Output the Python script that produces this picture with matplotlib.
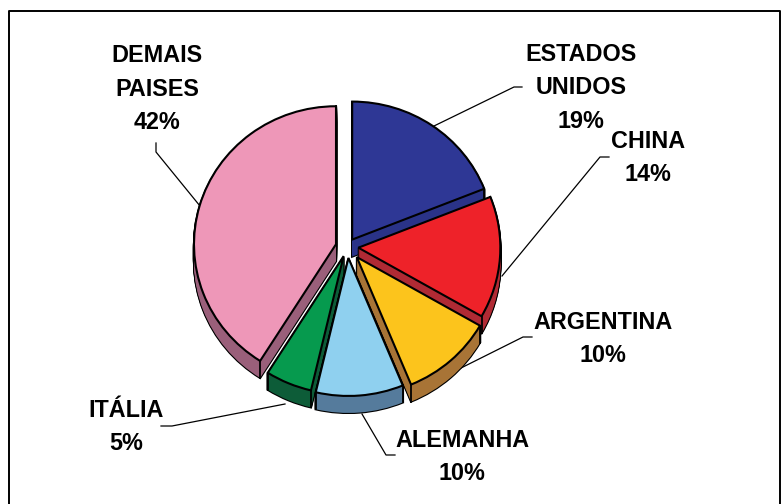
import matplotlib
matplotlib.use('Agg')
import matplotlib.pyplot as plt
import numpy as np

plt.rcParams['font.family'] = ['Liberation Sans', 'DejaVu Sans']

paises = ['ESTADOS\nUNIDOS', 'CHINA', 'ARGENTINA', 'ALEMANHA', 'ITÁLIA', 'DEMAIS\nPAISES']
valores = [19, 14, 10, 10, 5, 42]
cores = ['#2E3795', '#EE2229', '#FCC41C', '#8FD0EF', '#069A4E', '#EE97B8']
cores_lado = ['#2A3388', '#B02A34', '#A87436', '#557B9C', '#0D5C38', '#9A5F7A']

W, H = 782, 504
RX, RY = 142, 138
CENTRO = (347, 247)
PROF = 17
explode = [0.065, 0.08, 0.10, 0.08, 0.07, 0.08]
# the 3d view pulls the lower slice edges a little clockwise (degrees, per slice end)
perspectiva = [0, 0, 1, 2.7, 2.5, 3.5, 0]
# back slices first so the front ones cover them
ordem = [0, 5, 1, 4, 2, 3]

rotulos_pos = [(581, 88), (648, 158), (603, 339), (462, 457), (126, 427), (157, 89)]
guias = [
    [(522, 87), (514, 87), (434, 126)],
    [(609, 157), (600, 157), (502, 276)],
    [(532, 337), (523, 337), (459, 369)],
    [(395, 455), (386, 455), (362, 414)],
    [(161, 426), (172, 426), (285, 404)],
    [(156, 143), (156, 152), (200, 206)],
]


def px(x, y):
    return x / RX, (H - y) / RY


fig = plt.figure(figsize=(W / 100, H / 100), dpi=100)
ax = fig.add_axes([0, 0, 1, 1])

cx, cy = px(*CENTRO)
dy = 1 / RY


def fatia(centro_y, cor, borda, lw, z):
    wedges, _ = ax.pie(valores, explode=explode, startangle=90, counterclock=False,
                       center=(cx, centro_y), radius=1, colors=cor,
                       wedgeprops=dict(edgecolor=borda, linewidth=lw))
    for i, (w, rank) in enumerate(zip(wedges, np.argsort(ordem))):
        w.set_theta1(w.theta1 - perspectiva[i + 1])
        w.set_theta2(w.theta2 - perspectiva[i])
        w.set_zorder(rank * 10 + z)
    return wedges


# depth: black silhouette first, then the dark fill over it
for d in range(PROF, 0, -1):
    fatia(cy - d * dy, ['black'] * 6, 'black', 1.6, 1)
for d in range(PROF, 0, -1):
    fatia(cy - d * dy, cores_lado, 'none', 0, 2)

topo = fatia(cy, cores, 'black', 1.5, 3)

# vertical ridges at the slice corners
for w, rank in zip(topo, np.argsort(ordem)):
    x0, y0 = w.center
    for t in (w.theta1, w.theta2):
        xc = x0 + np.cos(np.radians(t))
        yc = y0 + np.sin(np.radians(t))
        ax.plot([xc, xc], [yc, yc - PROF * dy], color='black', lw=1.3, zorder=rank * 10 + 2.5)

for nome, valor, pos, guia in zip(paises, valores, rotulos_pos, guias):
    xs, ys = zip(*[px(*p) for p in guia])
    ax.plot(xs, ys, color='black', lw=0.9, zorder=0.5)
    tx, ty = px(*pos)
    ax.text(tx, ty, f'{nome}\n{valor}%', ha='center', va='center', fontsize=16.8,
            fontweight='bold', linespacing=1.58, color='black', zorder=100)

# chart frame
xs, ys = zip(*[px(*p) for p in [(8.5, 504), (8.5, 10.5), (780, 10.5), (780, 504)]])
ax.plot(xs, ys, color='black', lw=1.4, zorder=0.5)

ax.set_aspect('auto')
ax.set_xlim(0, W / RX)
ax.set_ylim(0, H / RY)
ax.axis('off')

fig.savefig('out.png', dpi=100)
